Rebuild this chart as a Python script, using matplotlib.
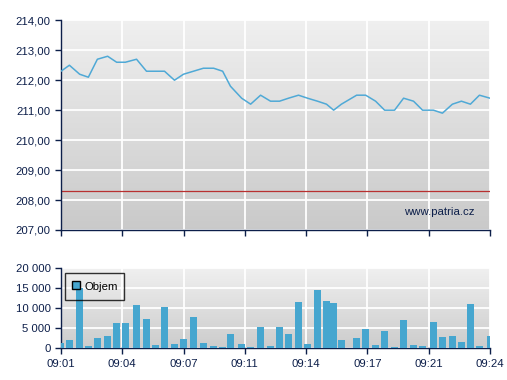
import numpy as np
import matplotlib
matplotlib.use("Agg")
import matplotlib.pyplot as plt
from matplotlib.lines import Line2D

times = ["09:01:00", "09:01:27", "09:02:00", "09:02:28", "09:02:57", "09:03:30", "09:03:59",
         "09:04:27", "09:05:03", "09:05:35", "09:06:04", "09:06:33", "09:07:05", "09:07:34",
         "09:08:06", "09:08:38", "09:09:11", "09:09:40", "09:10:05", "09:10:41", "09:11:10",
         "09:11:42", "09:12:14", "09:12:43", "09:13:12", "09:13:44", "09:14:13", "09:14:45",
         "09:15:14", "09:15:37", "09:16:02", "09:16:51", "09:17:20", "09:17:52", "09:18:21",
         "09:18:53", "09:19:22", "09:19:54", "09:20:23", "09:20:58", "09:21:27", "09:21:59",
         "09:22:28", "09:22:57", "09:23:26", "09:24:00"]
prices = [212.3, 212.5, 212.2, 212.1, 212.7, 212.8, 212.6, 212.6, 212.7, 212.3, 212.3, 212.3,
          212.0, 212.2, 212.3, 212.4, 212.4, 212.3, 211.8, 211.4, 211.2, 211.5, 211.3, 211.3,
          211.4, 211.5, 211.4, 211.3, 211.2, 211.0, 211.2, 211.5, 211.5, 211.3, 211.0, 211.0,
          211.4, 211.3, 211.0, 211.0, 210.9, 211.2, 211.3, 211.2, 211.5, 211.4]
volumes = [1300, 2100, 15200, 600, 2600, 3100, 6300, 6300, 10800, 7300, 800, 10300, 1100, 2300,
           7800, 1300, 600, 300, 3600, 1100, 300, 5300, 600, 5300, 3600, 11600, 1100, 14600,
           11800, 11300, 2100, 2600, 4800, 800, 4300, 300, 7100, 800, 600, 6600, 2800, 3100,
           1600, 11100, 600, 3100]
ref_price = 208.3
x_labels = ["09:01", "09:04", "09:07", "09:11", "09:14", "09:17", "09:21", "09:24"]
price_ticks = [207, 208, 209, 210, 211, 212, 213, 214]
vol_ticks = [0, 5000, 10000, 15000, 20000]

def to_sec(s):
    h, m, sec = map(int, s.split(":"))
    return h * 3600 + m * 60 + sec

t = np.array([to_sec(s) for s in times], dtype=float)
t0, t1 = t[0], t[-1]
xticks = np.linspace(t0, t1, len(x_labels))

plt.rcParams['font.family'] = ['Liberation Sans', 'DejaVu Sans']
navy = '#0d1f4a'
bar_color = '#46a6cf'
W, H = 507, 380
fig = plt.figure(figsize=(W / 100, H / 100), dpi=100)
fig.patch.set_facecolor('white')

def fr(l, r, top, bot):
    return [l / W, 1 - bot / H, (r - l) / W, (bot - top) / H]

ax1 = fig.add_axes(fr(61, 490, 20.3, 230))
ax2 = fig.add_axes(fr(61, 490, 268.3, 348.3))

grad = np.linspace(0, 1, 256).reshape(-1, 1)
for ax, c_top, c_bot in [(ax1, 0.94, 0.79), (ax2, 0.94, 0.80)]:
    g = c_top + (c_bot - c_top) * grad
    ax.imshow(np.dstack([g, g, g]), extent=[0, 1, 0, 1], transform=ax.transAxes,
              aspect='auto', origin='upper', zorder=0, interpolation='bilinear')
    ax.set_xlim(t0, t1)
    ax.set_xticks(xticks)
    ax.grid(True, color='white', linewidth=1.3, zorder=1)
    ax.set_axisbelow(True)
    for s in ['top', 'right']:
        ax.spines[s].set_visible(False)
    for s in ['left', 'bottom']:
        ax.spines[s].set_color(navy)
        ax.spines[s].set_linewidth(1.0)
    ax.tick_params(colors=navy, labelcolor=navy, labelsize=8.2, length=4, width=1, direction='out')

# price panel
ax1.plot(t, prices, color='#4fa9d6', linewidth=1.1, zorder=3)
ax1.axhline(ref_price, color='#b83030', linewidth=0.9, zorder=2)
ax1.set_ylim(207, 214)
ax1.set_yticks(price_ticks)
ax1.set_yticklabels([f"{v:.2f}".replace('.', ',') for v in price_ticks])
ax1.set_xticklabels([])
ax1.text(0.965, 0.085, "www.patria.cz", transform=ax1.transAxes, ha='right', va='center',
         color=navy, fontsize=8.2, zorder=4)

# volume panel
ax2.bar(t, volumes, width=22.5, color=bar_color, zorder=3)
ax2.set_ylim(0, 20000)
ax2.set_yticks(vol_ticks)
ax2.set_yticklabels([f"{v:,}".replace(',', ' ') for v in vol_ticks])
ax2.set_xticklabels(x_labels)
handle = Line2D([], [], marker='s', linestyle='none', markersize=6,
                markerfacecolor=bar_color, markeredgecolor='black', markeredgewidth=1.0)
leg = ax2.legend([handle], ['Objem'], loc='upper left', bbox_to_anchor=(0.01, 0.94),
                 frameon=True, fancybox=False, fontsize=8.2, handlelength=0.8,
                 handleheight=1.6, handletextpad=0.3, borderpad=0.55, borderaxespad=0)
leg.get_frame().set_edgecolor('black')
leg.get_frame().set_facecolor('none')
leg.get_frame().set_linewidth(1.0)

fig.savefig('out.png', dpi=100)
